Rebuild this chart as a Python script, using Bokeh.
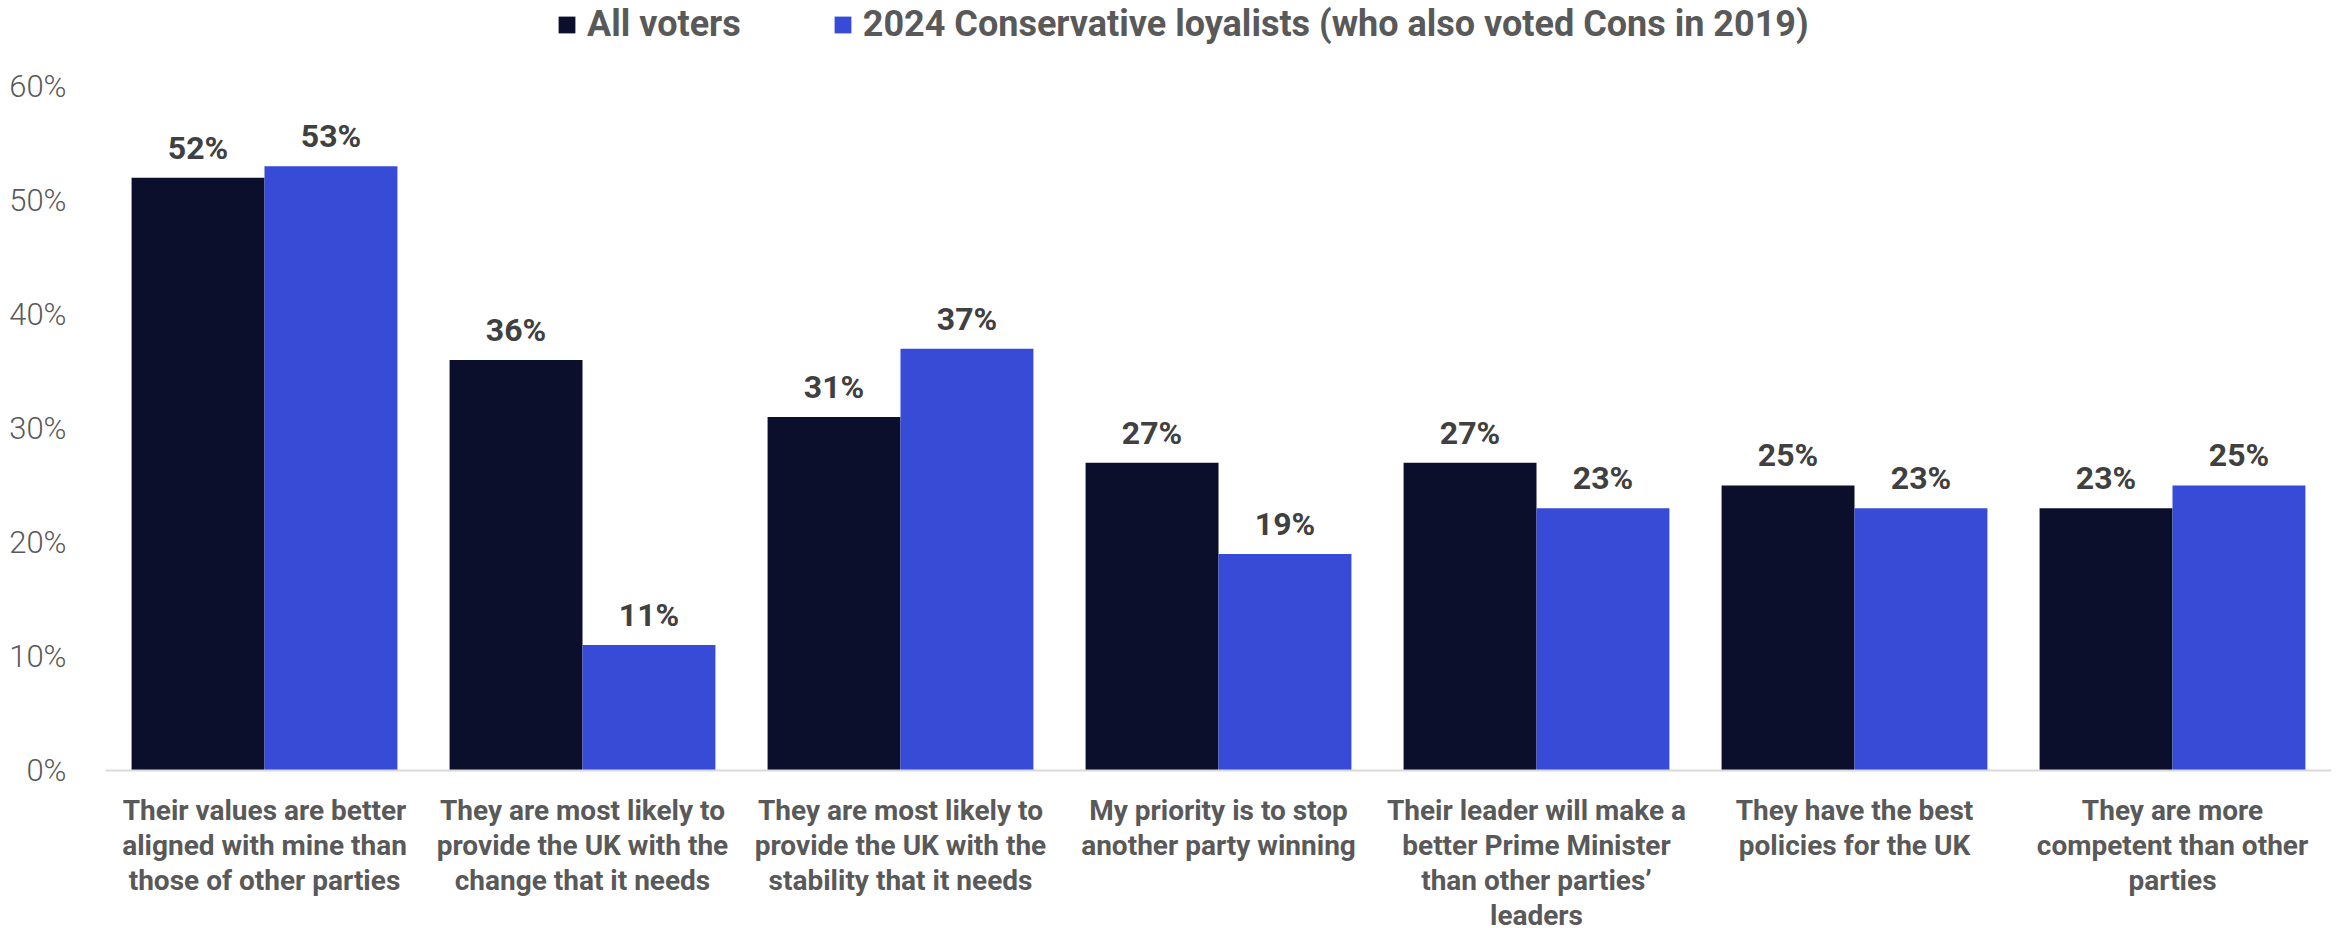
from bokeh.plotting import figure
from bokeh.models import (ColumnDataSource, FactorRange, Range1d, Legend, LegendItem,
                          Span, FixedTicker, PrintfTickFormatter)
from bokeh.transform import dodge
from bokeh.core.properties import value
from bokeh.embed import file_html
from bokeh.resources import INLINE

categories = [
    "Their values are better\naligned with mine than\nthose of other parties",
    "They are most likely to\nprovide the UK with the\nchange that it needs",
    "They are most likely to\nprovide the UK with the\nstability that it needs",
    "My priority is to stop\nanother party winning",
    "Their leader will make a\nbetter Prime Minister\nthan other parties\u2019\nleaders",
    "They have the best\npolicies for the UK",
    "They are more\ncompetent than other\nparties",
]
all_voters = [52, 36, 31, 27, 27, 25, 23]
loyalists = [53, 11, 37, 19, 23, 23, 25]
series_names = ["All voters", "2024 Conservative loyalists (who also voted Cons in 2019)"]
y_ticks = [0, 10, 20, 30, 40, 50, 60]

FONT = "Roboto"
DARK = "#0c0f2c"
BLUE = "#374bd6"
GREY = "#595959"

src = ColumnDataSource(dict(
    cat=categories,
    all=all_voters,
    loy=loyalists,
    all_lbl=[f"{v}%" for v in all_voters],
    loy_lbl=[f"{v}%" for v in loyalists],
    base=[0] * len(categories),
))

p = figure(width=2336, height=928,
           x_range=FactorRange(*categories, range_padding=0),
           y_range=Range1d(-13.86, 67.54),
           output_backend="svg", toolbar_location=None,
           min_border_left=105, min_border_right=5, min_border_top=0, min_border_bottom=0)

p.outline_line_color = None
p.xgrid.grid_line_color = None
p.ygrid.grid_line_color = None
p.background_fill_color = "white"
p.border_fill_color = "white"

bw = 0.418
r1 = p.vbar(x=dodge("cat", -bw / 2, range=p.x_range), top="all", width=bw, source=src,
            fill_color=DARK, line_color=None)
r2 = p.vbar(x=dodge("cat", bw / 2, range=p.x_range), top="loy", width=bw, source=src,
            fill_color=BLUE, line_color=None)

for col, lbl, off in (("all", "all_lbl", -bw / 2), ("loy", "loy_lbl", bw / 2)):
    p.text(x=dodge("cat", off, range=p.x_range), y=col, text=lbl, source=src,
           text_align="center", text_baseline="alphabetic", y_offset=-30,
           text_font=value(FONT), text_font_style="bold", text_font_size="32px",
           text_color="#404040")

# category labels below the baseline
p.text(x="cat", y="base", text="cat", source=src, y_offset=24,
       text_align="center", text_baseline="top", text_line_height=1.055,
       text_font=value(FONT), text_font_style="bold", text_font_size="28px",
       text_color=GREY)

# baseline
p.add_layout(Span(location=0, dimension="width", line_color="#d9d9d9", line_width=2))

p.xaxis.visible = False

p.yaxis.ticker = FixedTicker(ticks=y_ticks)
p.yaxis.formatter = PrintfTickFormatter(format="%d%%")
p.yaxis.axis_line_color = None
p.yaxis.major_tick_line_color = None
p.yaxis.minor_tick_line_color = None
p.yaxis.major_label_standoff = 33
p.yaxis.major_label_text_font = "Roboto Light"
p.yaxis.major_label_text_font_size = "31px"
p.yaxis.major_label_text_color = GREY

legend = Legend(items=[LegendItem(label=series_names[0], renderers=[r1]),
                       LegendItem(label=series_names[1], renderers=[r2])],
                orientation="horizontal", location=(451, 883),
                padding=0, margin=0, spacing=91, label_standoff=10,
                glyph_width=21, glyph_height=21,
                border_line_color=None, background_fill_alpha=0,
                label_text_font=FONT, label_text_font_style="bold",
                label_text_font_size="36px", label_text_color=GREY)
p.add_layout(legend)

open("out.html", "w").write(file_html(p, INLINE))
